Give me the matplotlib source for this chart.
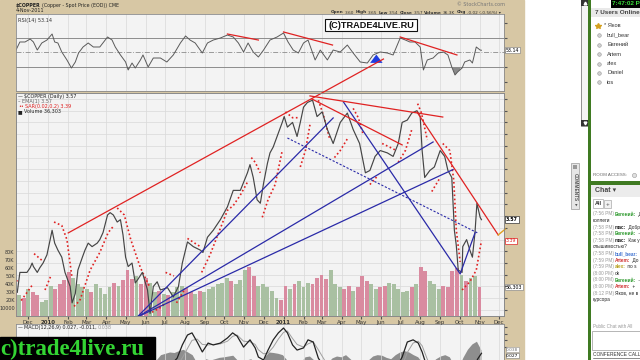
import pandas as pd
import matplotlib
matplotlib.use("Agg")
import matplotlib.pyplot as plt
from matplotlib.patches import Rectangle
from matplotlib.lines import Line2D

# ---- values ----
price_dates = [
    "2009-11-14", "2009-11-18", "2009-11-29", "2009-12-04", "2009-12-07", "2009-12-09", "2009-12-15", "2009-12-19", "2009-12-24", "2009-12-30",
    "2010-01-04", "2010-01-07", "2010-01-11", "2010-01-16", "2010-01-22", "2010-01-27", "2010-02-04", "2010-02-07", "2010-02-12", "2010-02-16",
    "2010-02-23", "2010-02-27", "2010-03-04", "2010-03-10", "2010-03-18", "2010-03-22", "2010-03-27", "2010-04-03", "2010-04-07", "2010-04-12",
    "2010-04-18", "2010-04-23", "2010-04-27", "2010-05-01", "2010-05-05", "2010-05-11", "2010-05-16", "2010-05-20", "2010-05-27", "2010-06-04",
    "2010-06-08", "2010-06-13", "2010-06-19", "2010-06-24", "2010-07-05", "2010-07-14", "2010-07-22", "2010-07-28", "2010-08-05", "2010-08-14",
    "2010-08-25", "2010-08-29", "2010-09-05", "2010-09-14", "2010-09-25", "2010-10-06", "2010-10-15", "2010-10-26", "2010-11-06", "2010-11-10",
    "2010-11-15", "2010-11-21", "2010-11-26", "2010-12-01", "2010-12-07", "2010-12-11", "2010-12-16", "2010-12-22", "2010-12-30", "2011-01-02",
    "2011-01-07", "2011-01-15", "2011-01-22", "2011-01-27", "2011-02-01", "2011-02-07", "2011-02-15", "2011-02-22", "2011-03-02", "2011-03-10",
    "2011-03-19", "2011-03-30", "2011-04-10", "2011-04-19", "2011-04-29", "2011-05-08", "2011-05-15", "2011-05-23", "2011-05-31", "2011-06-11",
    "2011-06-20", "2011-06-28", "2011-07-04", "2011-07-12", "2011-07-19", "2011-07-27", "2011-08-01", "2011-08-04", "2011-08-08", "2011-08-16",
    "2011-08-23", "2011-09-01", "2011-09-08", "2011-09-13", "2011-09-19", "2011-09-20", "2011-09-23", "2011-09-26", "2011-09-29", "2011-10-05",
    "2011-10-06", "2011-10-12", "2011-10-17", "2011-10-21", "2011-10-25", "2011-10-28", "2011-11-02", "2011-11-04"]
price_close = [
    2.95, 3.12, 3.12, 3.16, 3.20, 3.17, 3.12, 3.16, 3.20, 3.27,
    3.40, 3.48, 3.37, 3.31, 3.25, 3.12, 3.00, 2.86, 2.94, 3.14,
    3.25, 3.31, 3.37, 3.34, 3.37, 3.40, 3.46, 3.61, 3.63, 3.61,
    3.55, 3.57, 3.44, 3.25, 3.17, 3.20, 3.03, 3.06, 3.12, 2.97,
    2.77, 3.00, 3.04, 2.97, 2.99, 2.91, 3.00, 3.20, 3.38, 3.34,
    3.31, 3.29, 3.42, 3.48, 3.57, 3.68, 3.82, 3.82, 3.97, 4.04,
    3.93, 3.74, 3.71, 3.88, 4.05, 4.14, 4.19, 4.28, 4.40, 4.45,
    4.36, 4.40, 4.28, 4.40, 4.53, 4.57, 4.59, 4.45, 4.49, 4.34,
    4.22, 4.40, 4.48, 4.34, 4.22, 3.97, 3.99, 4.11, 4.16, 4.14,
    4.11, 4.22, 4.40, 4.42, 4.48, 4.50, 4.45, 4.16, 3.93, 3.99,
    4.02, 4.16, 4.11, 3.99, 3.93, 3.82, 3.48, 3.35, 3.14, 3.12,
    3.34, 3.40, 3.31, 3.25, 3.46, 3.71, 3.59, 3.57]

rsi_dates = [
    "2009-11-12", "2009-11-18", "2009-11-26", "2009-12-04", "2009-12-09", "2009-12-15", "2009-12-22", "2009-12-30", "2010-01-07", "2010-01-11",
    "2010-01-16", "2010-01-22", "2010-01-30", "2010-02-06", "2010-02-12", "2010-02-17", "2010-02-24", "2010-03-04", "2010-03-12", "2010-03-22",
    "2010-04-03", "2010-04-10", "2010-04-15", "2010-04-23", "2010-05-01", "2010-05-05", "2010-05-11", "2010-05-16", "2010-05-24", "2010-05-28",
    "2010-06-05", "2010-06-13", "2010-06-24", "2010-07-04", "2010-07-14", "2010-07-25", "2010-08-02", "2010-08-09", "2010-08-17", "2010-08-28",
    "2010-09-05", "2010-09-14", "2010-09-25", "2010-10-06", "2010-10-15", "2010-10-23", "2010-10-31", "2010-11-07", "2010-11-15", "2010-11-23",
    "2010-12-01", "2010-12-11", "2010-12-22", "2011-01-01", "2011-01-08", "2011-01-16", "2011-01-24", "2011-02-01", "2011-02-08", "2011-02-19",
    "2011-02-27", "2011-03-10", "2011-03-19", "2011-03-30", "2011-04-10", "2011-04-19", "2011-04-30", "2011-05-11", "2011-05-20", "2011-05-31",
    "2011-06-11", "2011-06-20", "2011-07-01", "2011-07-09", "2011-07-16", "2011-07-24", "2011-08-01", "2011-08-06", "2011-08-12", "2011-08-21",
    "2011-08-29", "2011-09-06", "2011-09-13", "2011-09-19", "2011-09-24", "2011-09-28", "2011-10-05", "2011-10-09", "2011-10-17", "2011-10-21",
    "2011-10-27", "2011-11-02", "2011-11-04"]
rsi_values = [
    53.4, 64.5, 64.5, 68.6, 64.5, 53.4, 63.1, 67.2, 75.5, 64.5,
    63.1, 50.7, 39.7, 28.6, 36.9, 49.3, 57.6, 63.1, 57.6, 57.6,
    71.4, 67.2, 57.6, 46.6, 36.9, 25.9, 35.5, 28.6, 39.7, 46.6,
    30.0, 42.4, 42.4, 36.9, 46.6, 63.1, 72.8, 67.2, 63.1, 49.3,
    63.1, 67.2, 70.0, 74.1, 71.4, 63.1, 50.7, 63.1, 50.7, 43.8,
    53.4, 67.2, 71.4, 76.9, 64.5, 53.4, 49.3, 63.1, 67.2, 39.7,
    53.4, 39.7, 53.4, 50.7, 60.3, 49.3, 36.9, 35.5, 46.6, 50.7,
    49.3, 46.6, 70.0, 67.2, 64.5, 64.5, 57.6, 25.9, 39.7, 42.4,
    49.3, 50.7, 46.6, 30.0, 19.0, 23.1, 28.6, 36.9, 39.7, 35.5,
    57.6, 53.4, 53.1]

# weekly volume (thousands), last week ending 2011-11-04
volume_k = [
    30, 26, 22, 34, 30, 26, 18,
    20, 38, 34, 40, 45, 55, 48, 40, 36, 34, 30, 40, 35, 28, 36, 42, 38, 45,
    58, 46, 50, 40, 48, 42, 30, 32, 28, 26, 30, 36, 38, 35, 30, 28, 32,
    30, 34, 36, 40, 42, 48, 44, 40, 45, 58, 62, 50, 38, 40, 36, 32, 22, 20,
    38, 34, 40, 44, 36, 42, 40, 48, 52, 46, 58, 40, 36, 34, 38, 32, 36,
    50, 44, 40, 34, 36, 38, 42, 40, 34, 30, 32, 36, 40, 62, 56, 44, 40,
    34, 38, 36, 56, 60, 52, 44, 48, 50, 36]
volume_up = ("rgrgrrg" "ggrrr" "rggg" "grgg" "ggrgr" "rrgr" "rggr" "grggg" "rrgr" "gggg" "ggrgg" "grrg" "ggggr"
             "rgrg" "ggrr" "rrgg" "grrgr" "rrgg" "rrgg" "gggrg" "rrgg" "grrrr" "grgg" "r")

macd_dates = [
    "2010-06-24", "2010-07-09", "2010-07-20", "2010-07-28", "2010-08-05", "2010-08-12", "2010-08-20", "2010-08-28", "2010-09-06", "2010-09-14",
    "2010-09-25", "2010-10-06", "2010-10-14", "2010-10-21", "2010-10-31", "2010-11-10", "2010-11-18", "2010-11-23", "2010-12-01", "2010-12-08",
    "2010-12-16", "2010-12-24", "2011-01-01", "2011-01-07", "2011-01-15", "2011-01-22", "2011-02-01", "2011-02-08", "2011-02-16", "2011-02-24",
    "2011-03-06", "2011-03-30", "2011-04-30", "2011-05-31", "2011-06-23", "2011-07-04", "2011-07-12", "2011-07-21", "2011-07-29", "2011-08-04",
    "2011-08-08", "2011-08-16", "2011-09-16", "2011-10-17", "2011-10-29", "2011-11-04"]
macd_line = [
    -0.04, -0.02, 0.009, 0.058, 0.095, 0.103, 0.069, 0.032, 0.065, 0.058,
    0.065, 0.084, 0.103, 0.091, 0.050, 0.077, 0.047, 0.013, 0.002, 0.039,
    0.077, 0.103, 0.121, 0.103, 0.058, 0.039, 0.047, 0.077, 0.069, 0.009,
    -0.028, -0.05, -0.09, -0.07, -0.035, 0.013, 0.069, 0.077, 0.065, 0.032,
    0.002, -0.05, -0.11, -0.07, 0.005, 0.027]
macd_signal = [
    -0.05, -0.04, -0.02, 0.01, 0.045, 0.075, 0.08, 0.06, 0.058, 0.06,
    0.062, 0.072, 0.09, 0.095, 0.072, 0.07, 0.06, 0.04, 0.025, 0.028,
    0.05, 0.08, 0.105, 0.11, 0.082, 0.06, 0.05, 0.062, 0.07, 0.04,
    0.0, -0.035, -0.075, -0.08, -0.055, -0.02, 0.03, 0.065, 0.072, 0.055,
    0.03, -0.02, -0.09, -0.09, -0.04, -0.011]
# weekly histogram, last week ending 2011-11-04
macd_hist = [
    0.0, 0.02, 0.025, 0.03, 0.028, 0.035, 0.04, 0.03, 0.02, -0.01, -0.02,
    0.005, 0.0, 0.005, 0.01, 0.012, 0.015, 0.018, 0.0, -0.02, 0.0, 0.005, -0.015, -0.02,
    0.012, 0.03, 0.028, 0.025, 0.02,
    0.0, -0.02, -0.02, -0.01, 0.012, 0.015, 0.0, -0.03, -0.02, -0.01, 0.008, 0.015,
    0.012, 0.02, 0.005, -0.01, -0.02, -0.03, 0.0, 0.015, 0.02, 0.018, 0.01, 0.005, 0.02,
    0.03, 0.035, 0.03, 0.02, 0.012, -0.01, -0.03, -0.01, 0.005, 0.015, 0.02, 0.012, -0.02, -0.03,
    0.01, 0.04, 0.06, 0.07, 0.038]

sar_runs = [
    [("2009-11-12", 3.05), ("2009-11-18", 3.04)],
    [("2009-11-20", 2.88), ("2009-12-07", 3.01)],
    [("2009-12-10", 3.28), ("2009-12-25", 3.21)],
    [("2009-12-27", 2.97), ("2010-01-05", 3.09)],
    [("2010-01-10", 3.55), ("2010-01-22", 3.52), ("2010-01-30", 3.40), ("2010-02-07", 3.07)],
    [("2010-02-10", 2.83), ("2010-02-19", 2.88), ("2010-03-07", 3.14), ("2010-03-22", 3.29), ("2010-04-04", 3.46), ("2010-04-13", 3.52)],
    [("2010-04-18", 3.67), ("2010-04-29", 3.61), ("2010-05-09", 3.40), ("2010-05-24", 3.16), ("2010-06-07", 3.00)],
    [("2010-06-11", 2.78), ("2010-06-24", 2.82), ("2010-06-30", 2.85)],
    [("2010-07-02", 3.12), ("2010-07-15", 3.09)],
    [("2010-07-19", 2.86), ("2010-07-31", 2.97)],
    [("2010-08-05", 3.41), ("2010-08-19", 3.36), ("2010-08-25", 3.34)],
    [("2010-08-27", 3.12), ("2010-09-09", 3.27), ("2010-09-21", 3.44), ("2010-10-06", 3.65), ("2010-10-15", 3.69),
     ("2010-10-26", 3.78), ("2010-11-06", 3.89)],
    [("2010-11-12", 4.10), ("2010-11-18", 4.06), ("2010-11-26", 3.97)],
    [("2010-11-29", 3.59), ("2010-12-08", 3.74), ("2010-12-19", 3.87), ("2010-12-30", 4.16)],
    [("2011-01-04", 4.49), ("2011-01-15", 4.44), ("2011-01-25", 4.44)],
    [("2011-01-27", 4.02), ("2011-02-04", 4.16), ("2011-02-11", 4.38)],
    [("2011-02-24", 4.59), ("2011-03-04", 4.46), ("2011-03-14", 4.25)],
    [("2011-03-21", 4.10), ("2011-03-30", 4.16), ("2011-04-10", 4.26)],
    [("2011-04-19", 4.52), ("2011-04-27", 4.44), ("2011-05-05", 4.29)],
    [("2011-05-15", 3.87), ("2011-05-28", 3.95)],
    [("2011-06-03", 4.22), ("2011-06-18", 4.18), ("2011-06-25", 4.16)],
    [("2011-06-28", 4.06), ("2011-07-09", 4.16), ("2011-07-19", 4.34)],
    [("2011-07-28", 4.56), ("2011-08-03", 4.48), ("2011-08-12", 4.25)],
    [("2011-08-19", 3.81), ("2011-09-01", 3.93)],
    [("2011-09-05", 4.22), ("2011-09-16", 4.16), ("2011-09-22", 3.91), ("2011-09-26", 3.48), ("2011-10-02", 3.21)],
    [("2011-10-05", 2.97), ("2011-10-17", 3.04), ("2011-10-27", 3.14), ("2011-11-04", 3.39)],
]

# hand-drawn trend lines
red_lines = [
    [("2010-02-01", 3.457), ("2011-06-05", 4.941)],
    [("2011-02-11", 4.626), ("2011-09-05", 4.446)],
    [("2011-02-14", 4.600), ("2011-07-04", 4.208)],
    [("2011-07-27", 4.489), ("2011-11-30", 3.440)],
]
orange_line = [("2011-11-30", 3.44), ("2011-12-11", 3.49)]
blue_lines = [
    [("2010-05-19", 2.739), ("2011-03-19", 4.438)],
    [("2010-05-19", 2.739), ("2011-08-21", 4.233)],
    [("2010-05-19", 2.739), ("2011-09-21", 3.998)],
    [("2011-04-04", 4.574), ("2011-10-02", 3.107), ("2011-10-25", 3.457)],
]
blue_dotted = [("2011-01-07", 4.267), ("2011-10-29", 3.457)]
rsi_red_lines = [
    [("2010-10-06", 75.5), ("2010-11-23", 67.2)],
    [("2011-01-01", 78.3), ("2011-03-18", 60.3)],
    [("2011-07-01", 71.4), ("2011-09-27", 46.6)],
]

users = ["Яков", "bull_bear", "Евгений", "Artem", "alex", "Daniel", "ios"]
chat = [
    ("(7:56 PM)", "Евгений:", "#2e9a2e", " Добрый"),
    ("", "", "#000", "коллеги"),
    ("(7:58 PM)", "mac:", "#222222", " Добрый"),
    ("(7:58 PM)", "Евгений:", "#2e9a2e", " -"),
    ("(7:58 PM)", "mac:", "#222222", " Как у"),
    ("", "", "#000", "слышимостью?"),
    ("(7:58 PM)", "bull_bear:", "#3a6fd0", ""),
    ("(7:59 PM)", "Artem:", "#d03030", " До"),
    ("(7:59 PM)", "alex:", "#b8a020", " по s"),
    ("(8:00 PM)", "", "#000", "ok"),
    ("(8:00 PM)", "Евгений:", "#2e9a2e", " -"),
    ("(8:00 PM)", "Artem:", "#d03030", " +"),
    ("(8:12 PM)", "", "#000", "Яков, не в"),
    ("", "", "#000", "курсора"),
]

# ---- layout ----
W, H = 640, 360
TAN = "#d7c7a4"
PANEL = "#f3f3f3"
GRID = "#d9d9d9"
SPINE = "#8a8a8a"
RED = "#e02222"
BLUE = "#2a2aa8"
SANS = ["Liberation Sans", "DejaVu Sans"]

fig = plt.figure(figsize=(W / 100, H / 100), dpi=100)
fig.patch.set_facecolor("white")


def box(x0, y0, x1, y1, **kw):
    r = Rectangle((x0 / W, 1 - y1 / H), (x1 - x0) / W, (y1 - y0) / H, transform=fig.transFigure, **kw)
    fig.add_artist(r)
    return r


def txt(x, y, s, **kw):
    kw.setdefault("va", "center")
    return fig.text(x / W, 1 - y / H, s, **kw)


def run(x, y, parts, size, gap=1.0, **common):
    rend = fig.canvas.get_renderer()
    for s, kw in parts:
        if not s:
            continue
        t = txt(x, y, s, fontsize=size, **{**common, **kw})
        x += t.get_window_extent(rend).width + gap
    return x


def dpts(pts):
    return [pd.Timestamp(d) for d, _ in pts], [v for _, v in pts]


box(0, 0, 524, 360, color=TAN, zorder=-5)

xmin, xmax = pd.Timestamp("2009-11-12"), pd.Timestamp("2011-12-09")
months = pd.date_range("2009-12-01", "2011-12-01", freq="MS")
month_lbl = [str(m.year) if m.month == 1 else m.strftime("%b") for m in months]


def panel(y0, y1, z):
    ax = fig.add_axes([16 / W, 1 - y1 / H, 488 / W, (y1 - y0) / H], zorder=z)
    ax.set_xlim(xmin, xmax)
    ax.set_xticks(months)
    ax.tick_params(bottom=False, labelbottom=False, left=False, labelleft=False)
    for s in ax.spines.values():
        s.set_color(SPINE)
        s.set_linewidth(0.6)
    return ax


# RSI panel
rsi = panel(14, 91, 2)
rsi.set_facecolor(PANEL)
rsi.grid(axis="x", color=GRID, lw=0.5)
rsi.set_ylim(-3.1, 103.1)
rsi.yaxis.tick_right()
rsi.set_yticks([10, 30, 50, 70, 90])
rsi.tick_params(axis="y", labelsize=4, length=2, pad=1, color="#555", labelcolor="#333")
for lvl in (30, 70):
    rsi.axhline(lvl, color="#8c8c8c", lw=0.7)
rsi.axhline(50, color="#8c8c8c", lw=0.6, ls=(0, (6, 2, 1, 2)))
rd = pd.to_datetime(rsi_dates)
rv = pd.Series(rsi_values)
rsi.fill_between(rd, rv, 30, where=rv < 30, interpolate=True, color="#8a8a8a", lw=0)
rsi.plot(rd, rv, color="#5a5a5a", lw=0.7)
for ln in rsi_red_lines:
    xs, ys = dpts(ln)
    rsi.plot(xs, ys, color=RED, lw=0.9)
rsi.annotate("", xy=(pd.Timestamp("2011-05-25"), 51), xytext=(pd.Timestamp("2011-05-25"), 40),
             arrowprops=dict(arrowstyle="simple,head_width=0.9,head_length=0.6,tail_width=0.5", color="#1e3ce0", lw=0))
rsi.text(0.004, 0.95, "RSI(14) 53.14", transform=rsi.transAxes, fontsize=3.6, va="top", color="#333")
rsi.text(1.004, 53.14, "53.14", transform=rsi.get_yaxis_transform(), fontsize=3.4, va="center",
         bbox=dict(boxstyle="square,pad=0.15", fc="white", ec="#777", lw=0.4))

# price panel: background / volume / price layers
pmin, pmax = 2.748, 4.651
pticks = [round(2.8 + 0.1 * i, 1) for i in range(19)]

bg = panel(93, 316, 1)
bg.set_facecolor(PANEL)
bg.set_ylim(pmin, pmax)
bg.set_yticks(pticks)
bg.tick_params(right=False, labelright=False)
bg.grid(color=GRID, lw=0.5)

vol = panel(93, 316, 2)
vol.patch.set_visible(False)
for s in vol.spines.values():
    s.set_visible(False)
vdates = pd.date_range(end="2011-11-04", periods=len(volume_k), freq="W-FRI")
vcol = ["#d98ba0" if c == "r" else "#a9c0a2" for c in volume_up]
vol.bar(vdates - pd.Timedelta(days=3), [v * 1000 for v in volume_k], width=6.0, color=vcol, lw=0)
vol.set_ylim(0, 280000)
vol.set_yticks([10000, 20000, 30000, 40000, 50000, 60000, 70000, 80000])
vol.set_yticklabels(["10000", "20K", "30K", "40K", "50K", "60K", "70K", "80K"])
vol.tick_params(axis="y", labelleft=True, labelsize=3.5, length=0, pad=1, labelcolor="#333")
vol.text(1.004, 36303, "36,303", transform=vol.get_yaxis_transform(), fontsize=3.4, va="center",
         bbox=dict(boxstyle="square,pad=0.15", fc="white", ec="#777", lw=0.4))

px = panel(93, 316, 3)
px.patch.set_visible(False)
px.set_ylim(pmin, pmax)
px.yaxis.tick_right()
px.set_yticks(pticks)
px.tick_params(axis="y", labelsize=4, length=2, pad=1, color="#555", labelcolor="#333")
px.tick_params(axis="x", bottom=True, labelbottom=True, labelsize=4, length=2, pad=1, color="#555", labelcolor="#333")
px.set_xticklabels(month_lbl)
for lbl, m in zip(px.get_xticklabels(), months):
    if m.month == 1:
        lbl.set_fontweight("bold")

for ln in sar_runs:
    xs, ys = dpts(ln)
    px.plot(xs, ys, color=RED, lw=1.2, ls=(0, (1, 1.5)))
px.plot(pd.to_datetime(price_dates), price_close, color="#454545", lw=0.85)
for ln in blue_lines:
    xs, ys = dpts(ln)
    px.plot(xs, ys, color=BLUE, lw=0.9)
xs, ys = dpts(blue_dotted)
px.plot(xs, ys, color=BLUE, lw=0.8, ls=(0, (2, 1.5)))
for ln in red_lines:
    xs, ys = dpts(ln)
    px.plot(xs, ys, color=RED, lw=0.9, clip_on=False)
xs, ys = dpts(orange_line)
px.plot(xs, ys, color="#e0a020", lw=1.0, clip_on=False)

px.text(1.004, 3.57, "3.57", transform=px.get_yaxis_transform(), fontsize=3.4, va="center", fontweight="bold",
        bbox=dict(boxstyle="square,pad=0.15", fc="white", ec="#333", lw=0.5))
px.text(1.004, 3.39, "3.39", transform=px.get_yaxis_transform(), fontsize=3.4, va="center", color=RED,
        bbox=dict(boxstyle="square,pad=0.15", fc="white", ec=RED, lw=0.5))

# MACD panel (cut off by the screen edge)
md = panel(324, 360, 2)
md.set_facecolor(PANEL)
md.spines["bottom"].set_visible(False)
md.grid(axis="x", color=GRID, lw=0.5)
md.set_ylim(0.002, 0.136)
md.yaxis.tick_right()
md.set_yticks([0.05, 0.075, 0.1, 0.125])
md.set_yticklabels(["0.050", "0.075", "0.100", "0.125"])
md.tick_params(axis="y", labelsize=3.8, length=2, pad=1, color="#555", labelcolor="#333")
hd = pd.date_range(end="2011-11-04", periods=len(macd_hist), freq="W-FRI")
hv = pd.Series(macd_hist)
md.fill_between(hd, 0, hv, where=hv > 0, interpolate=True, color="#8e8e8e", lw=0)
mdd = pd.to_datetime(macd_dates)
md.plot(mdd, macd_signal, color="#a0a0a0", lw=0.7)
md.plot(mdd, macd_line, color="#222222", lw=0.9)
md.text(1.004, 0.041, "0.038", transform=md.get_yaxis_transform(), fontsize=3.2, va="center", color="#777",
        bbox=dict(boxstyle="square,pad=0.1", fc="white", ec="#999", lw=0.4))
md.text(1.004, 0.018, "0.027", transform=md.get_yaxis_transform(), fontsize=3.2, va="center",
        bbox=dict(boxstyle="square,pad=0.1", fc="white", ec="#777", lw=0.4))

# ---- chart texts ----
run(16, 5, [("$COPPER", {"fontweight": "bold"}), ("(Copper - Spot Price (EOD)) CME", {})], 3.4, color="#222")
txt(16, 11, "4-Nov-2011", fontsize=3.5, color="#222")
txt(505, 5, "© StockCharts.com", fontsize=3.5, color="#777", ha="right")
run(331, 12.5, [("Open", {"fontweight": "bold"}), ("3.60", {}), ("High", {"fontweight": "bold"}), ("3.65", {}),
                ("Low", {"fontweight": "bold"}), ("3.54", {}), ("Close", {"fontweight": "bold"}), ("3.57", {}),
                ("Volume", {"fontweight": "bold"}), ("36.3K", {}), ("Chg", {"fontweight": "bold"}),
                ("-0.02 (-0.56%) ▾", {})], 3.05, gap=1.1, color="#333")
run(18, 96.5, [("—", {}), ("$COPPER (Daily) 3.57", {})], 3.5, color="#222", zorder=10)
run(18, 101.5, [("--", {}), ("EMA(1) 3.57", {})], 3.5, color="#666", zorder=10)
run(18, 106.5, [("••", {}), ("SAR(0.02,0.2) 3.39", {})], 3.5, color=RED, zorder=10)
run(18, 111.5, [("■", {}), ("Volume 36,303", {})], 3.5, color="#222", zorder=10)
run(18, 327.5, [("—", {}), ("MACD(12,26,9) 0.027, -0.011,", {}), ("0.038", {"color": "#999"})], 3.5,
    color="#222", zorder=10)

box(325, 19, 417, 31, fc="white", ec="#111", lw=0.8, zorder=10)
txt(371, 25.2, "(C)TRADE4LIVE.RU", ha="center", fontsize=6.6, fontweight="bold", family=SANS,
    color="#111", zorder=11)

# watermark bottom-left
box(0, 337, 155, 361, color="black", zorder=10)
txt(0.5, 349.5, "c)trade4live.ru", fontsize=16.5, fontweight="bold", family=["Liberation Serif", "DejaVu Serif"],
    color="#33d433", zorder=11)

# ---- side panel ----
box(581, 0, 588, 126, fc="#f4f4f4", ec="#666", lw=0.5)
box(581, 0, 588, 6, fc="#333", lw=0)
box(581, 120, 588, 126, fc="#333", lw=0)
fig.add_artist(Line2D([584.5 / W], [1 - 3 / H], transform=fig.transFigure, marker="^", ms=2, color="white", lw=0))
fig.add_artist(Line2D([584.5 / W], [1 - 123 / H], transform=fig.transFigure, marker="v", ms=2, color="white", lw=0))

box(571, 163, 579, 209, fc="#e6e6e6", ec="#9a9a9a", lw=0.5)
box(573, 165, 577, 169, fc="#999", lw=0)
txt(575, 187, "COMMENTS", rotation=270, ha="center", fontsize=3.4, fontweight="bold", color="#555", family=SANS)
txt(575, 204, "▸", rotation=270, ha="center", fontsize=3.4, color="#555")

box(588, 0, 591, 360, fc="#3f7a22", lw=0)
box(591, 8, 641, 17, fc="#e9e9e9", lw=0)
box(611, 0, 641, 7.5, fc="black", lw=0)
txt(612.5, 3.8, "7:47:02 P", fontsize=4.6, fontweight="bold", color="#3bdc3b", family=SANS)
txt(595, 12.5, "7 Users Online", fontsize=4.6, fontweight="bold", color="#444", family=SANS)
for i, name in enumerate(users):
    y = 25.7 + i * 9.45
    if i == 0:
        fig.add_artist(Line2D([598 / W], [1 - y / H], transform=fig.transFigure, marker="*", ms=4,
                              color="#d4a020", lw=0))
        txt(604, y, "* " + name, fontsize=4.1, color="#333", family=SANS)
    else:
        fig.add_artist(Line2D([599 / W], [1 - y / H], transform=fig.transFigure, marker="o", ms=2.6,
                              mfc="#d0d0d0", mec="#999", mew=0.4, lw=0))
        txt(607, y, name, fontsize=4.1, color="#333", family=SANS)

txt(593, 174.5, "ROOM ACCESS:", fontsize=3.2, color="#666", family=SANS)
fig.add_artist(Line2D([634 / W], [1 - 174.5 / H], transform=fig.transFigure, marker="o", ms=3,
                      mfc="#e0e0e0", mec="#999", mew=0.4, lw=0))
box(588, 181, 641, 185, fc="#3f7a22", lw=0)
box(591, 185, 641, 197, fc="#ececec", lw=0)
txt(595, 191, "Chat ▾", fontsize=5, fontweight="bold", color="#444", family=SANS)
box(593, 199, 603, 208, fc="white", ec="#aaa", lw=0.5)
txt(598, 203.8, "All", ha="center", fontsize=4, fontweight="bold", color="#333", family=SANS)
box(604, 200, 611, 208, fc="#f2f2f2", ec="#aaa", lw=0.5)
txt(607.5, 204, "+", ha="center", fontsize=4.5, color="#555", family=SANS)

for i, (tm, who, col, msg) in enumerate(chat):
    y = 214 + i * 6.6
    parts = []
    if tm:
        parts.append((tm, {"color": "#999"}))
    if who:
        parts.append((who, {"color": col, "fontweight": "bold"}))
    parts.append((msg, {"color": "#222"}))
    run(593, y, parts, 3.4, gap=0.8, family=SANS)

txt(593, 326, "Public Chat with All", fontsize=3.3, color="#999", family=SANS)
box(592, 331, 642, 350, fc="white", ec="#aaa", lw=0.6)
txt(593, 354.5, "CONFERENCE CALL", fontsize=3.5, color="#333", family=SANS)
fig.add_artist(Line2D([593 / W, 640 / W], [1 - 357.5 / H] * 2, transform=fig.transFigure, color="#333", lw=0.4))

fig.savefig("out.png", dpi=100)
